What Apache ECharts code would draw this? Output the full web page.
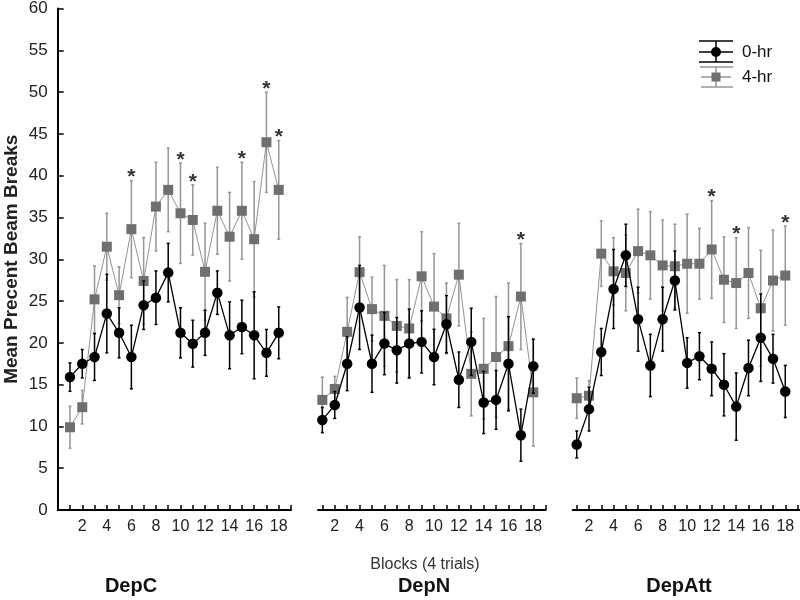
<!DOCTYPE html>
<html><head><meta charset="utf-8">
<script src="https://cdn.jsdelivr.net/npm/echarts@6/dist/echarts.min.js"></script>
<style>html,body{margin:0;padding:0;background:#fff}#c{width:800px;height:600px}</style>
</head><body><div id="c"></div>
<script>
// ---- data ----
const blocks = [1,2,3,4,5,6,7,8,9,10,11,12,13,14,15,16,17,18];
const xTickValues = [1,2,3,4,5,6,7,8,9,10,11,12,13,14,15,16,17,18,19];
const xTickLabels = [2,4,6,8,10,12,14,16,18];
const panelNames = ['DepC','DepN','DepAtt'];

const depC_0hr    = [15.9,17.5,18.3,23.5,21.2,18.3,24.5,25.4,28.4,21.2,19.9,21.2,26.0,20.9,21.9,20.9,18.8,21.2];
const depC_0hr_se = [1.7,1.7,2.8,4.7,3.0,3.8,2.9,3.2,3.5,3.0,2.8,2.7,2.6,4.0,3.2,5.2,2.8,3.1];
const depC_4hr    = [9.9,12.3,25.2,31.5,25.7,33.6,27.4,36.3,38.3,35.5,34.7,28.5,35.8,32.7,35.8,32.4,44.0,38.3];
const depC_4hr_se = [2.5,2.0,4.0,4.0,3.4,5.8,5.2,5.3,5.0,6.0,4.2,5.8,5.2,5.3,5.8,6.9,6.0,5.9];
const depC_sig    = [6,10,11,15,17,18];

const depN_0hr    = [10.7,12.5,17.4,24.1,17.4,19.8,19.0,19.8,20.0,18.2,22.1,15.5,20.0,12.8,13.1,17.4,8.9,17.1];
const depN_0hr_se = [1.5,1.6,3.2,5.0,3.4,3.7,3.9,4.1,3.7,3.3,3.4,3.3,4.0,3.7,3.5,5.6,3.1,3.2];
const depN_4hr    = [13.1,14.4,21.2,28.3,23.9,23.1,21.9,21.6,27.8,24.2,22.8,28.0,16.2,16.8,18.2,19.5,25.4,14.0];
const depN_4hr_se = [2.7,1.5,4.1,4.2,3.8,6.0,5.5,5.8,5.3,6.3,4.2,6.1,5.0,6.0,7.2,7.5,6.3,6.4];
const depN_sig    = [17];

const depAtt_0hr    = [7.8,12.0,18.8,26.3,30.3,22.7,17.2,22.7,27.3,17.5,18.3,16.8,14.9,12.3,16.9,20.5,18.0,14.1];
const depAtt_0hr_se = [1.6,2.6,2.8,4.7,3.7,3.8,3.7,3.8,3.5,3.0,2.8,3.2,3.7,4.0,3.3,5.2,2.9,3.1];
const depAtt_4hr    = [13.3,13.6,30.5,28.4,28.2,30.8,30.3,29.1,29.0,29.3,29.3,31.0,27.4,27.0,28.2,24.0,27.3,27.9];
const depAtt_4hr_se = [2.4,1.8,3.9,4.0,4.5,5.0,5.2,5.4,5.0,5.9,4.2,5.8,5.1,5.4,5.4,6.9,6.0,5.9];
const depAtt_sig    = [12,14,18];

const panels = [
  {m0: depC_0hr, s0: depC_0hr_se, m4: depC_4hr, s4: depC_4hr_se, sig: depC_sig},
  {m0: depN_0hr, s0: depN_0hr_se, m4: depN_4hr, s4: depN_4hr_se, sig: depN_sig},
  {m0: depAtt_0hr, s0: depAtt_0hr_se, m4: depAtt_4hr, s4: depAtt_4hr_se, sig: depAtt_sig}
];

// ---- layout ----
const gridLayout = [
  {left: 57.7, width: 233.3, xmin: 0, xmax: 19},
  {left: 318, width: 227.7, xmin: 0.65, xmax: 19},
  {left: 572.7, width: 227.3, xmin: 0.67, xmax: 19.2}
];
const FONT = "'Liberation Sans', Arial, sans-serif";
const BLACK = '#000';
const GRAY_MARK = '#6f6f6f';
const GRAY_LINE = '#939393';
const GRAY_ERR = '#969696';

function errRender(color) {
  return function (params, api) {
    const x = api.value(0), lo = api.value(1), hi = api.value(2);
    const p1 = api.coord([x, hi]), p2 = api.coord([x, lo]);
    const style = {stroke: color, lineWidth: 1.5};
    return {type: 'group', children: [
      {type: 'line', shape: {x1: p1[0], y1: p1[1], x2: p2[0], y2: p2[1]}, style},
      {type: 'line', shape: {x1: p1[0]-1.5, y1: p1[1], x2: p1[0]+1.5, y2: p1[1]}, style},
      {type: 'line', shape: {x1: p2[0]-1.5, y1: p2[1], x2: p2[0]+1.5, y2: p2[1]}, style}
    ]};
  };
}
function starRender(params, api) {
  const p = api.coord([api.value(0), api.value(1)]);
  return {type: 'text', x: p[0], y: p[1] - 3, style: {text: '*', fill: '#333', font: 'bold 21px ' + FONT, align: 'center', verticalAlign: 'middle'}};
}

const grids = [], xAxes = [], yAxes = [], series = [];
gridLayout.forEach((g, i) => {
  grids.push({left: g.left, width: g.width, top: 5.7, height: 504.3, containLabel: false});
  xAxes.push({
    type: 'value', gridIndex: i, min: g.xmin, max: g.xmax,
    axisLine: {show: true, onZero: false, lineStyle: {color: BLACK, width: 2}},
    axisTick: {show: true, inside: true, length: 5, customValues: xTickValues, lineStyle: {color: BLACK, width: 1.5}},
    axisLabel: {show: true, customValues: xTickLabels, fontSize: 16, color: '#222', fontFamily: FONT, margin: 9},
    splitLine: {show: false}
  });
  yAxes.push({
    type: 'value', gridIndex: i, min: 0, max: 60, interval: 5, show: i === 0,
    axisLine: {show: true, lineStyle: {color: BLACK, width: 2}},
    axisTick: {show: true, inside: true, length: 6, lineStyle: {color: BLACK, width: 1.5}},
    axisLabel: {fontSize: 17, color: '#222', fontFamily: FONT, margin: 10},
    splitLine: {show: false},
    name: i === 0 ? 'Mean Precent Beam Breaks' : '',
    nameLocation: 'middle', nameRotate: 90, nameGap: 36,
    nameTextStyle: {fontSize: 19, fontWeight: 'bold', color: '#222', fontFamily: FONT}
  });
  const p = panels[i];
  series.push({
    type: 'custom', xAxisIndex: i, yAxisIndex: i, renderItem: errRender(GRAY_ERR), silent: true, z: 1,
    data: blocks.map((b, k) => [b, p.m4[k] - p.s4[k], p.m4[k] + p.s4[k]])
  });
  series.push({
    type: 'line', xAxisIndex: i, yAxisIndex: i, symbol: 'rect', symbolSize: 10, z: 2,
    itemStyle: {color: GRAY_MARK}, lineStyle: {color: GRAY_LINE, width: 1},
    data: blocks.map((b, k) => [b, p.m4[k]])
  });
  series.push({
    type: 'custom', xAxisIndex: i, yAxisIndex: i, renderItem: errRender(BLACK), silent: true, z: 3,
    data: blocks.map((b, k) => [b, p.m0[k] - p.s0[k], p.m0[k] + p.s0[k]])
  });
  series.push({
    type: 'line', xAxisIndex: i, yAxisIndex: i, symbol: 'circle', symbolSize: 10.5, z: 4,
    itemStyle: {color: BLACK}, lineStyle: {color: BLACK, width: 1.3},
    data: blocks.map((b, k) => [b, p.m0[k]])
  });
  series.push({
    type: 'custom', xAxisIndex: i, yAxisIndex: i, renderItem: starRender, silent: true, z: 5,
    data: p.sig.map(b => [b, p.m4[b-1] + p.s4[b-1]])
  });
});

const graphics = [
  {type: 'text', x: 425, y: 565, style: {text: 'Blocks (4 trials)', font: '16px ' + FONT, fill: '#333', align: 'center', verticalAlign: 'middle'}},
  {type: 'text', x: 131, y: 586, style: {text: panelNames[0], font: 'bold 20px ' + FONT, fill: '#111', align: 'center', verticalAlign: 'middle'}},
  {type: 'text', x: 424, y: 586, style: {text: panelNames[1], font: 'bold 20px ' + FONT, fill: '#111', align: 'center', verticalAlign: 'middle'}},
  {type: 'text', x: 679, y: 586, style: {text: panelNames[2], font: 'bold 20px ' + FONT, fill: '#111', align: 'center', verticalAlign: 'middle'}},
  // legend 0-hr
  {type: 'line', shape: {x1: 699, y1: 41, x2: 733, y2: 41}, style: {stroke: BLACK, lineWidth: 1.5}},
  {type: 'line', shape: {x1: 699, y1: 52, x2: 733, y2: 52}, style: {stroke: BLACK, lineWidth: 1.5}},
  {type: 'line', shape: {x1: 699, y1: 62, x2: 733, y2: 62}, style: {stroke: BLACK, lineWidth: 1.5}},
  {type: 'line', shape: {x1: 716, y1: 41, x2: 716, y2: 62}, style: {stroke: BLACK, lineWidth: 1.5}},
  {type: 'circle', shape: {cx: 716, cy: 52, r: 5}, style: {fill: BLACK}},
  {type: 'text', x: 742, y: 52, style: {text: '0-hr', font: '17px ' + FONT, fill: '#111', align: 'left', verticalAlign: 'middle'}},
  // legend 4-hr
  {type: 'line', shape: {x1: 700, y1: 67, x2: 733, y2: 67}, style: {stroke: GRAY_ERR, lineWidth: 1.5}},
  {type: 'line', shape: {x1: 701, y1: 77, x2: 731, y2: 77}, style: {stroke: GRAY_LINE, lineWidth: 1.5}},
  {type: 'line', shape: {x1: 701, y1: 87, x2: 733, y2: 87}, style: {stroke: GRAY_ERR, lineWidth: 1.5}},
  {type: 'line', shape: {x1: 716, y1: 67, x2: 716, y2: 87}, style: {stroke: GRAY_ERR, lineWidth: 1.5}},
  {type: 'rect', shape: {x: 711.5, y: 72.5, width: 9, height: 9}, style: {fill: GRAY_MARK}},
  {type: 'text', x: 742, y: 77, style: {text: '4-hr', font: '17px ' + FONT, fill: '#111', align: 'left', verticalAlign: 'middle'}}
];

const chart = echarts.init(document.getElementById('c'), null, {renderer: 'canvas'});
chart.setOption({
  animation: false,
  backgroundColor: '#fff',
  grid: grids, xAxis: xAxes, yAxis: yAxes, series: series, graphic: graphics
});
</script></body></html>
